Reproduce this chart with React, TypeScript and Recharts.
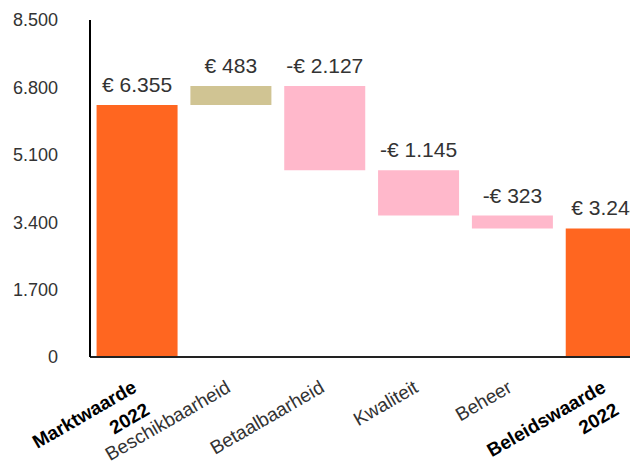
import { BarChart, Bar, XAxis, YAxis, Cell, LabelList } from 'recharts'

// waterfall: begin/eind zijn totalen, de rest zijn stappen
const categories = ['Marktwaarde\n2022', 'Beschikbaarheid', 'Betaalbaarheid', 'Kwaliteit', 'Beheer', 'Beleidswaarde\n2022']
const values = [6355, 483, -2127, -1145, -323, 3244]
const isTotal = [true, false, false, false, false, true]
const yTicks = [0, 1700, 3400, 5100, 6800, 8500]

const ORANGE = '#FF6620'
const TAN = '#D0C493'
const PINK = '#FFB8CB'
const FONT = '"Liberation Sans", Arial, sans-serif'

const nl = (n: number) => Math.abs(n).toString().replace(/\B(?=(\d{3})+(?!\d))/g, '.')

let running = 0
const data = categories.map((name, i) => {
  const v = values[i]
  let base = 0
  if (isTotal[i]) {
    running = v
  } else {
    base = v < 0 ? running + v : running
    running += v
  }
  return {
    name,
    base,
    size: Math.abs(v),
    label: (v < 0 ? '-€ ' : '€ ') + nl(v),
    color: isTotal[i] ? ORANGE : v < 0 ? PINK : TAN,
    bold: isTotal[i],
  }
})

function XTick(props: any) {
  const { x, y, payload } = props
  const lines = String(payload.value).split('\n')
  const bold = lines.length > 1
  return (
    <g transform={`translate(${x + 1},${y + 34})`}>
      <text
        transform="rotate(-30)"
        textAnchor="end"
        fontFamily={FONT}
        fontSize={19}
        fontWeight={bold ? 700 : 400}
        fill={bold ? '#000' : '#333'}
      >
        {lines.map((l, i) => (
          <tspan key={i} x={0} dy={i === 0 ? 0 : 26}>{l}</tspan>
        ))}
      </text>
    </g>
  )
}

export default function App() {
  return (
    <div style={{ width: 630, height: 454, overflow: 'hidden' }}>
      <BarChart
        width={650}
        height={454}
        data={data}
        margin={{ top: 12, right: 5, bottom: 0, left: 0 }}
        barCategoryGap="7%"
      >
        <XAxis
          dataKey="name"
          height={105}
          tickLine={false}
          tickSize={0}
          tickMargin={0}
          axisLine={{ stroke: '#222', strokeWidth: 2 }}
          tick={<XTick />}
          interval={0}
        />
        <YAxis
          width={82}
          domain={[0, 8500]}
          ticks={yTicks}
          tickLine={false}
          tickMargin={26}
          axisLine={{ stroke: '#000', strokeWidth: 2 }}
          tick={{ fill: '#333', fontSize: 18, fontFamily: FONT }}
          tickFormatter={(v: number) => nl(v)}
        />
        <Bar dataKey="base" stackId="w" fill="transparent" isAnimationActive={false} />
        <Bar dataKey="size" stackId="w" isAnimationActive={false}>
          {data.map((d, i) => (
            <Cell key={i} fill={d.color} />
          ))}
          <LabelList
            dataKey="label"
            position="top"
            offset={13}
            fill="#333"
            fontSize={21}
            fontFamily={FONT}
          />
        </Bar>
      </BarChart>
    </div>
  )
}
